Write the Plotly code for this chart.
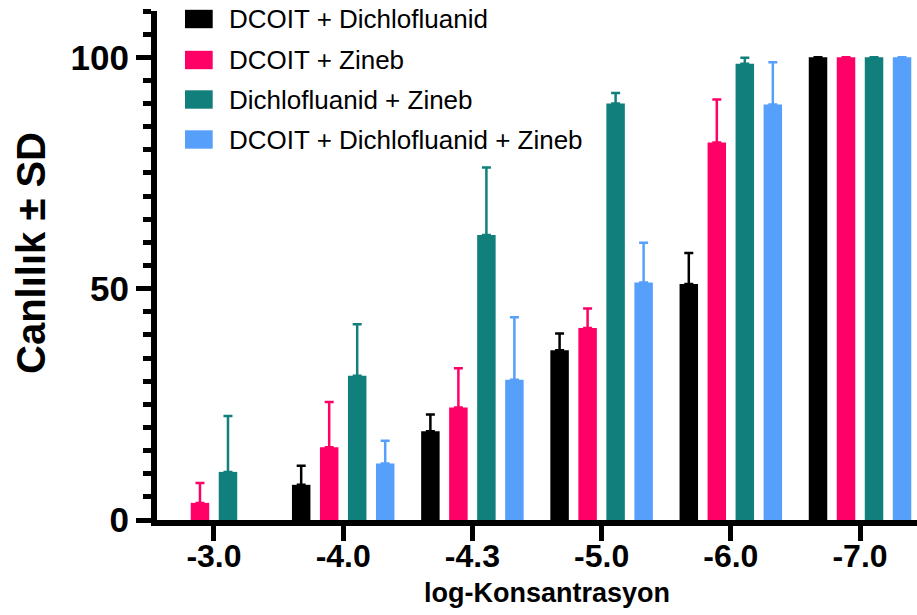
import plotly.graph_objects as go

categories = ["-3.0", "-4.0", "-4.3", "-5.0", "-6.0", "-7.0"]
series_names = ["DCOIT + Dichlofluanid", "DCOIT + Zineb", "Dichlofluanid + Zineb",
                "DCOIT + Dichlofluanid + Zineb"]
colors = ["#000000", "#FF0066", "#117F7C", "#56A0FC"]

dcoit_dichlo = [None, 7.6, 19.2, 36.7, 51.0, 100]
dcoit_dichlo_sd = [None, 4.1, 3.6, 3.6, 6.7, None]
dcoit_zineb = [3.7, 15.7, 24.3, 41.5, 81.6, 100]
dcoit_zineb_sd = [4.3, 9.8, 8.5, 4.2, 9.3, None]
dichlo_zineb = [10.4, 31.2, 61.6, 90.0, 98.6, 100]
dichlo_zineb_sd = [12.1, 11.1, 14.6, 2.3, 1.3, None]
all_three = [None, 12.2, 30.3, 51.3, 89.8, 100]
all_three_sd = [None, 4.9, 13.5, 8.6, 9.1, None]

values = [dcoit_dichlo, dcoit_zineb, dichlo_zineb, all_three]
sds = [dcoit_dichlo_sd, dcoit_zineb_sd, dichlo_zineb_sd, all_three_sd]

W, H = 917, 615
L, R, T, B = 157, 0, 11, 95
pw, ph = W - L - R, H - T - B

def px(x):
    return (x - L) / pw

def py(y):
    return (H - B - y) / ph

FONT = "Arial, 'Liberation Sans', sans-serif"

fig = go.Figure()
for name, vals, sd, col in zip(series_names, values, sds, colors):
    fig.add_trace(go.Bar(
        x=categories, y=vals, name=name,
        marker=dict(color=col, line=dict(width=0)),
        error_y=dict(type="data", array=sd,
                     arrayminus=[0 if s is not None else None for s in sd],
                     symmetric=False, color=col, thickness=2.5, width=4.5),
        showlegend=False,
    ))

shapes = []
annotations = []
rows_y = [19, 60, 99.5, 139.5]
for name, col, ry in zip(series_names, colors, rows_y):
    shapes.append(dict(type="rect", xref="paper", yref="paper",
                       x0=px(185), x1=px(212.7), y0=py(ry - 9.2), y1=py(ry + 9.2),
                       fillcolor=col, line=dict(width=0)))
    annotations.append(dict(xref="paper", yref="paper", x=px(227), y=py(ry),
                            xanchor="left", yanchor="middle", showarrow=False,
                            text=name, font=dict(family=FONT, size=26, color="black")))

annotations.append(dict(xref="paper", yref="paper", x=px(547), y=py(593),
                        xanchor="center", yanchor="middle", showarrow=False,
                        text="log-Konsantrasyon",
                        font=dict(family=FONT, size=27, color="black", weight="bold")))
annotations.append(dict(xref="paper", yref="paper", x=px(31), y=py(253),
                        xanchor="center", yanchor="middle", showarrow=False,
                        textangle=-90, text="Canlılık ± SD",
                        font=dict(family=FONT, size=40, color="black", weight="bold")))

fig.update_layout(
    width=W, height=H,
    margin=dict(l=L, r=R, t=T, b=B, pad=0),
    paper_bgcolor="white", plot_bgcolor="white",
    barmode="group", bargap=0.133, bargroupgap=0.34,
    shapes=shapes, annotations=annotations,
    showlegend=False,
    xaxis=dict(type="category", range=[-0.441, 5.441], showgrid=False, zeroline=False,
               showline=True, linecolor="black", linewidth=6,
               ticks="outside", ticklen=15, tickwidth=5, tickcolor="black",
               ticklabelstandoff=-12,
               tickfont=dict(family=FONT, size=32, color="black", weight="bold")),
    yaxis=dict(range=[0, 110], tick0=0, dtick=50, showgrid=False, zeroline=False,
               showline=True, linecolor="black", linewidth=6,
               ticks="outside", ticklen=15, tickwidth=5, tickcolor="black",
               minor=dict(dtick=5, tick0=0, ticks="outside", ticklen=8, tickwidth=5,
                          tickcolor="black", showgrid=False),
               tickfont=dict(family=FONT, size=35, color="black", weight="bold")),
)

fig.write_html("out.html")
